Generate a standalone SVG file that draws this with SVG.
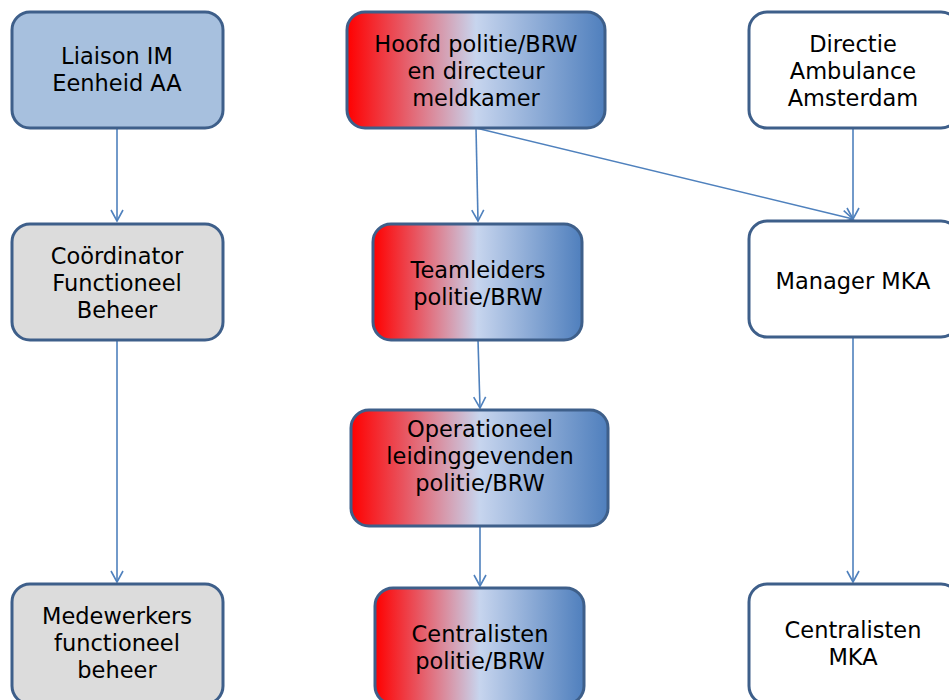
<svg xmlns="http://www.w3.org/2000/svg" width="949" height="700" viewBox="0 0 949 700">
<style>
.box{stroke:#3e5f8a;stroke-width:3}
.blue{fill:#a7c0de}
.grey{fill:#dcdcdc}
.white{fill:#ffffff}
.grad{fill:url(#rb)}
text{font-family:"DejaVu Sans",Verdana,sans-serif;font-size:22.5px;fill:#000;text-anchor:middle}
.c line{stroke:#4f81bd;stroke-width:1.6;fill:none}
</style>
<defs>
<linearGradient id="rb" x1="0" y1="0" x2="1" y2="0">
<stop offset="0" stop-color="#ff0000"/>
<stop offset="0.2" stop-color="#e9525d"/>
<stop offset="0.5" stop-color="#c7d5ee"/>
<stop offset="1" stop-color="#4f7fbd"/>
</linearGradient>
<marker id="ar" markerWidth="14" markerHeight="14" refX="12" refY="7" orient="auto" markerUnits="userSpaceOnUse">
<path d="M1,1 L12,7 L1,13" fill="none" stroke="#4f81bd" stroke-width="1.6"/>
</marker>
</defs>
<g class="c">
<line x1="117" y1="128" x2="117" y2="221" marker-end="url(#ar)"/>
<line x1="117" y1="340" x2="117" y2="582" marker-end="url(#ar)"/>
<line x1="476" y1="128" x2="478" y2="221" marker-end="url(#ar)"/>
<line x1="476" y1="128" x2="853" y2="219" marker-end="url(#ar)"/>
<line x1="853" y1="128" x2="853" y2="219" marker-end="url(#ar)"/>
<line x1="478" y1="340" x2="480" y2="408" marker-end="url(#ar)"/>
<line x1="480" y1="526" x2="480" y2="586" marker-end="url(#ar)"/>
<line x1="853" y1="337" x2="853" y2="582" marker-end="url(#ar)"/>
</g>
<g id="liaison"><rect class="box blue" x="12" y="12" width="211" height="116" rx="18"/>
<text x="117" y="64">Liaison IM</text><text x="117" y="91">Eenheid AA</text></g>
<g id="hoofd"><rect class="box grad" x="347" y="12" width="258" height="116" rx="18"/>
<text x="476" y="52">Hoofd politie/BRW</text><text x="476" y="79">en directeur</text><text x="476" y="106">meldkamer</text></g>
<g id="directie"><rect class="box white" x="749" y="12" width="210" height="116" rx="18"/>
<text x="853" y="52">Directie</text><text x="853" y="79">Ambulance</text><text x="853" y="106">Amsterdam</text></g>
<g id="coordinator"><rect class="box grey" x="12" y="224" width="211" height="116" rx="18"/>
<text x="117" y="264">Coördinator</text><text x="117" y="291">Functioneel</text><text x="117" y="318">Beheer</text></g>
<g id="teamleiders"><rect class="box grad" x="373" y="224" width="209" height="116" rx="18"/>
<text x="478" y="278">Teamleiders</text><text x="478" y="305">politie/BRW</text></g>
<g id="manager"><rect class="box white" x="749" y="221" width="210" height="116" rx="18"/>
<text x="853" y="289">Manager MKA</text></g>
<g id="operationeel"><rect class="box grad" x="351" y="410" width="257" height="116" rx="18"/>
<text x="480" y="437">Operationeel</text><text x="480" y="464">leidinggevenden</text><text x="480" y="491">politie/BRW</text></g>
<g id="medewerkers"><rect class="box grey" x="12" y="584" width="211" height="120" rx="18"/>
<text x="117" y="624">Medewerkers</text><text x="117" y="651">functioneel</text><text x="117" y="678">beheer</text></g>
<g id="centralisten-politie"><rect class="box grad" x="375" y="588" width="209" height="116" rx="18"/>
<text x="480" y="642">Centralisten</text><text x="480" y="669">politie/BRW</text></g>
<g id="centralisten-mka"><rect class="box white" x="749" y="584" width="210" height="120" rx="18"/>
<text x="853" y="638">Centralisten</text><text x="853" y="665">MKA</text></g>
</svg>
